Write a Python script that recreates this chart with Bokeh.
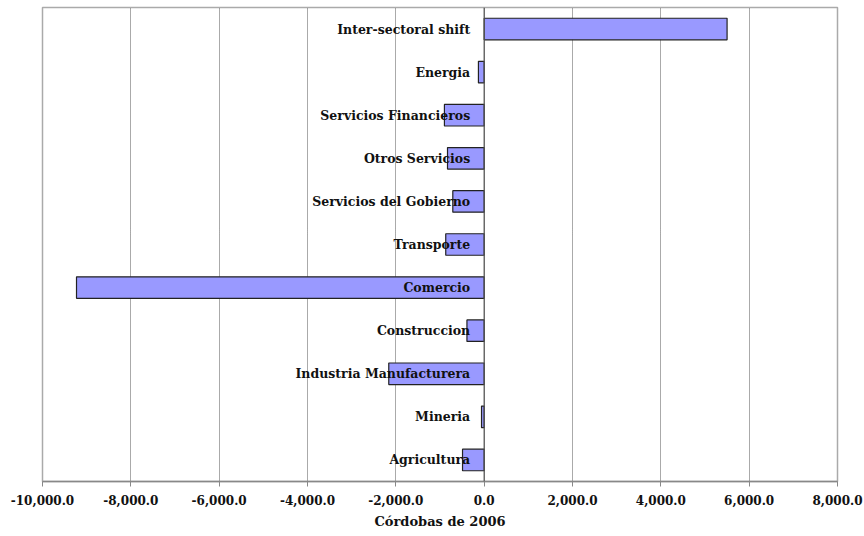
from bokeh.plotting import figure
from bokeh.models import ColumnDataSource, NumeralTickFormatter, FixedTicker, Range1d, Span
from bokeh.core.properties import value
from bokeh.embed import file_html
from bokeh.resources import INLINE

sectors = ["Inter-sectoral shift", "Energia", "Servicios Financieros", "Otros Servicios",
           "Servicios del Gobierno", "Transporte", "Comercio", "Construccion",
           "Industria Manufacturera", "Mineria", "Agricultura"]
values = [5500, -130, -900, -830, -710, -870, -9230, -390, -2160, -60, -490]
x_ticks = [-10000, -8000, -6000, -4000, -2000, 0, 2000, 4000, 6000, 8000]

factors = list(reversed(sectors))
src = ColumnDataSource(dict(y=sectors, v=values, zero=[0] * len(sectors)))

FONT = "DejaVu Serif"

p = figure(width=864, height=536, y_range=factors, x_range=Range1d(-10000, 8000),
           output_backend="svg", toolbar_location=None,
           min_border_left=42, min_border_right=27, min_border_top=7, min_border_bottom=55)

p.hbar(y="y", left="zero", right="v", height=0.5, source=src,
       fill_color="#9999FF", line_color="#222222", line_width=1.2)

p.add_layout(Span(location=0, dimension="height", line_color="#555555", line_width=1.2))

p.text(x="zero", y="y", text="y", source=src, x_offset=-14,
       text_align="right", text_baseline="middle",
       text_font=value(FONT), text_font_style="bold", text_font_size="12.5px",
       text_color="#111111")

p.yaxis.visible = False
p.ygrid.visible = False
p.xgrid.ticker = FixedTicker(ticks=x_ticks)
p.xgrid.grid_line_color = "#555555"
p.xgrid.grid_line_dash = "1 1"
p.xgrid.grid_line_width = 1

p.xaxis.ticker = FixedTicker(ticks=x_ticks)
p.xaxis.formatter = NumeralTickFormatter(format="0,0.0")
p.xaxis.major_label_text_font = FONT
p.xaxis.major_label_text_font_style = "bold"
p.xaxis.major_label_text_font_size = "12px"
p.xaxis.major_label_text_color = "#111111"
p.xaxis.major_label_standoff = 8
p.xaxis.axis_line_color = "#888888"
p.xaxis.axis_line_width = 1.5
p.xaxis.major_tick_line_color = "#888888"
p.xaxis.major_tick_in = 0
p.xaxis.major_tick_out = 5
p.xaxis.minor_tick_line_color = None
p.xaxis.axis_label = "Córdobas de 2006"
p.xaxis.axis_label_text_font = FONT
p.xaxis.axis_label_text_font_style = "bold"
p.xaxis.axis_label_text_font_size = "13px"
p.xaxis.axis_label_text_color = "#111111"
p.xaxis.axis_label_standoff = 6

p.outline_line_color = "#AAAAAA"
p.outline_line_width = 1.5

open("out.html", "w").write(file_html(p, INLINE))
